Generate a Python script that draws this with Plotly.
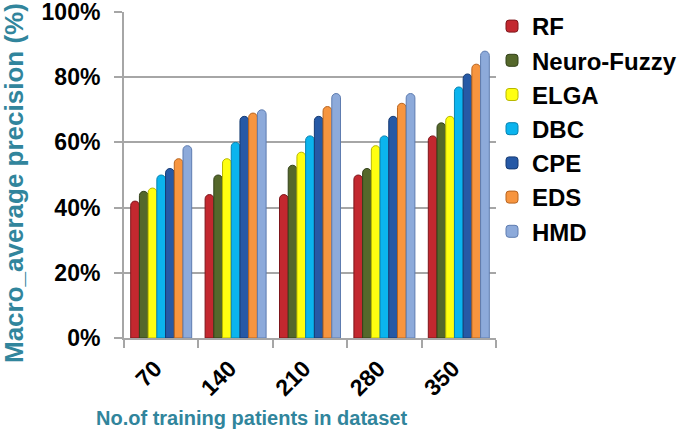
import plotly.graph_objects as go

categories = ["70", "140", "210", "280", "350"]
series_names = ["RF", "Neuro-Fuzzy", "ELGA", "DBC", "CPE", "EDS", "HMD"]
rf = [0.42, 0.44, 0.44, 0.50, 0.62]
neuro_fuzzy = [0.45, 0.50, 0.53, 0.52, 0.66]
elga = [0.46, 0.55, 0.57, 0.59, 0.68]
dbc = [0.50, 0.60, 0.62, 0.62, 0.77]
cpe = [0.52, 0.68, 0.68, 0.68, 0.81]
eds = [0.55, 0.69, 0.71, 0.72, 0.84]
hmd = [0.59, 0.70, 0.75, 0.75, 0.88]
y_ticks = [0, 0.2, 0.4, 0.6, 0.8, 1.0]
y_tick_labels = ["0%", "20%", "40%", "60%", "80%", "100%"]

series_values = [rf, neuro_fuzzy, elga, dbc, cpe, eds, hmd]
fill_colors = ["#C3282F", "#55682B", "#FFFF10", "#0BB4EE", "#2659A6", "#F7953F", "#8DAADA"]
line_colors = ["#7E161B", "#33421A", "#B8B800", "#0682B0", "#163B73", "#B8641F", "#5E7CB0"]

W, H = 688, 435
ML, MR, MT, MB = 124, 192, 12, 97
pw, ph = W - ML - MR, H - MT - MB

def px_x(x):
    return (x - ML) / pw

def px_y(y):
    return (H - MB - y) / ph

fig = go.Figure()
for name, vals, fc, lc in zip(series_names, series_values, fill_colors, line_colors):
    fig.add_trace(go.Bar(
        name=name, x=categories, y=vals,
        marker=dict(color=fc, line=dict(color=lc, width=1), cornerradius="50%"),
    ))

tick_font = dict(family="Liberation Sans, Arial, sans-serif", size=23, color="black", weight="bold")
teal = "#31859C"

fig.update_layout(
    width=W, height=H,
    margin=dict(l=ML, r=MR, t=MT, b=MB, autoexpand=False),
    paper_bgcolor="white", plot_bgcolor="white",
    barmode="group", bargap=0.18, bargroupgap=0,
    showlegend=True,
    legend=dict(
        x=px_x(492), y=px_y(4), xanchor="left", yanchor="top",
        font=dict(family="Liberation Sans, Arial, sans-serif", size=24, color="black", weight="bold"),
        tracegroupgap=0, bgcolor="rgba(0,0,0,0)",
    ),
    xaxis=dict(
        type="category", tickson="boundaries", ticks="outside", ticklen=8,
        tickcolor="#A6A6A6", tickwidth=2,
        showline=True, linecolor="#A6A6A6", linewidth=2,
        tickangle=-45, tickfont=tick_font, showgrid=False,
        ticklabeloverflow="allow", ticklabelstandoff=6,
    ),
    yaxis=dict(
        range=[0, 1.0], tickvals=y_ticks, ticktext=y_tick_labels,
        ticks="outside", ticklen=8, tickcolor="#A6A6A6", tickwidth=2,
        showline=True, linecolor="#A6A6A6", linewidth=2,
        showgrid=True, gridcolor="#A6A6A6", gridwidth=2,
        tickfont=tick_font, ticklabelstandoff=9, zeroline=False,
        ticklabeloverflow="allow",
    ),
    annotations=[
        dict(text="No.of training patients in dataset", xref="paper", yref="paper",
             x=px_x(251), y=px_y(418), xanchor="center", yanchor="middle", showarrow=False,
             font=dict(family="Liberation Sans, Arial, sans-serif",
                       size=20, color=teal, weight="bold")),
        dict(text="Macro_average precision (%)", xref="paper", yref="paper",
             x=px_x(14), y=px_y(183), xanchor="center", yanchor="middle", showarrow=False,
             textangle=-90,
             font=dict(family="Liberation Sans, Arial, sans-serif", size=26, color=teal, weight="bold")),
    ],
)
try:
    fig.update_layout(legend_maxheight=1.0)
except Exception:
    pass
try:
    fig.update_xaxes(ticklabelshift=-6)
except Exception:
    pass

fig.write_html("out.html", post_script="document.body.style.margin='0';",
               config={"displayModeBar": False})
